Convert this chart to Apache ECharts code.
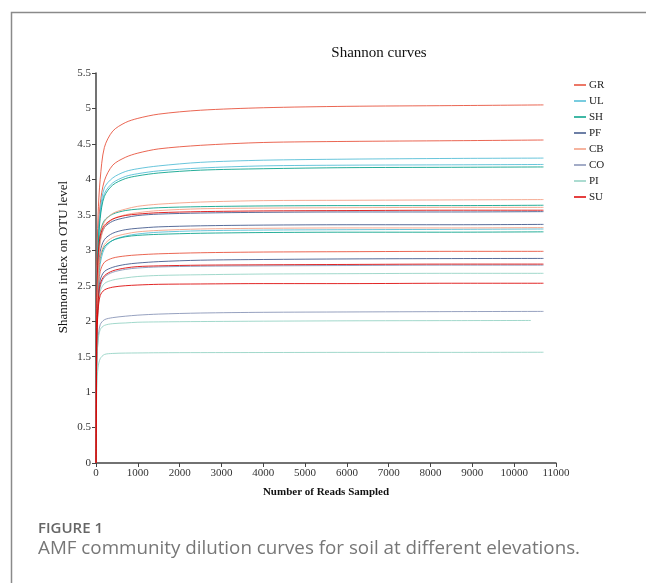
<!DOCTYPE html>
<html>
<head>
<meta charset="utf-8">
<script src="https://cdn.jsdelivr.net/npm/echarts@6/dist/echarts.min.js"></script>
<style>
html,body{margin:0;padding:0;background:#fff;}
#c{width:646px;height:583px;}
</style>
</head>
<body>
<div id="c"></div>
<script>
// Reads sampled (x values)
const readsX     = [1, 20, 50, 100, 200, 400, 700, 1000, 1500, 2500, 4000, 6000, 8500, 10700];
const readsX_PI2 = [1, 20, 50, 100, 200, 400, 700, 1000, 1500, 2500, 4000, 6000, 8500, 10400];

// Group names and colours
const groups = ['GR', 'UL', 'SH', 'PF', 'CB', 'CO', 'PI', 'SU'];
const groupColors = ['#E64B35', '#4DBBD5', '#00A087', '#3C5488', '#F39B7F', '#8491B4', '#91D1C2', '#DC0000'];

// Shannon index per curve
const GR_1 = [0, 2.7, 3.5, 4.0, 4.45, 4.68, 4.8, 4.86, 4.92, 4.975, 5.01, 5.03, 5.04, 5.05];
const GR_2 = [0, 2.5, 3.2, 3.65, 3.98, 4.2, 4.31, 4.37, 4.43, 4.48, 4.52, 4.535, 4.545, 4.555];
const GR_3 = [0, 1.9, 2.4, 2.7, 2.83, 2.89, 2.92, 2.935, 2.95, 2.965, 2.975, 2.98, 2.985, 2.985];
const UL_1 = [0, 2.4, 3.1, 3.55, 3.88, 4.02, 4.11, 4.15, 4.19, 4.24, 4.27, 4.285, 4.295, 4.30];
const UL_2 = [0, 2.35, 3.05, 3.5, 3.8, 3.95, 4.04, 4.08, 4.12, 4.16, 4.19, 4.20, 4.205, 4.21];
const UL_3 = [0, 1.9, 2.45, 2.8, 3.02, 3.14, 3.2, 3.23, 3.255, 3.275, 3.285, 3.29, 3.295, 3.30];
const SH_1 = [0, 2.3, 3.0, 3.45, 3.76, 3.92, 4.01, 4.05, 4.09, 4.13, 4.15, 4.165, 4.17, 4.175];
const SH_2 = [0, 2.3, 2.9, 3.25, 3.42, 3.51, 3.56, 3.58, 3.60, 3.615, 3.625, 3.63, 3.63, 3.635];
const SH_3 = [0, 2.0, 2.55, 2.88, 3.05, 3.14, 3.19, 3.21, 3.225, 3.24, 3.25, 3.255, 3.255, 3.26];
const PF_1 = [0, 2.2, 2.8, 3.15, 3.32, 3.41, 3.46, 3.49, 3.51, 3.525, 3.535, 3.54, 3.54, 3.545];
const PF_2 = [0, 2.1, 2.65, 2.98, 3.15, 3.24, 3.29, 3.31, 3.33, 3.345, 3.355, 3.36, 3.36, 3.365];
const PF_3 = [0, 1.8, 2.3, 2.58, 2.7, 2.76, 2.8, 2.82, 2.84, 2.86, 2.87, 2.878, 2.883, 2.885];
const CB_1 = [0, 2.2, 2.8, 3.2, 3.4, 3.52, 3.58, 3.62, 3.65, 3.68, 3.70, 3.705, 3.71, 3.715];
const CB_2 = [0, 2.1, 2.7, 3.1, 3.32, 3.44, 3.5, 3.53, 3.56, 3.585, 3.595, 3.60, 3.605, 3.605];
const CB_3 = [0, 2.0, 2.55, 2.9, 3.08, 3.18, 3.23, 3.26, 3.28, 3.30, 3.31, 3.315, 3.315, 3.32];
const CO_1 = [0, 1.75, 2.2, 2.48, 2.62, 2.69, 2.73, 2.75, 2.765, 2.775, 2.78, 2.785, 2.79, 2.79];
const CO_2 = [0, 1.4, 1.75, 1.95, 2.02, 2.05, 2.07, 2.085, 2.1, 2.115, 2.125, 2.13, 2.135, 2.138];
const PI_1 = [0, 1.7, 2.15, 2.42, 2.53, 2.58, 2.61, 2.63, 2.645, 2.655, 2.665, 2.67, 2.675, 2.675];
const PI_2 = [0, 1.4, 1.72, 1.88, 1.94, 1.965, 1.975, 1.985, 1.99, 1.995, 2.0, 2.005, 2.008, 2.01];
const PI_3 = [0, 1.1, 1.35, 1.47, 1.53, 1.545, 1.55, 1.552, 1.555, 1.557, 1.558, 1.56, 1.56, 1.562];
const SU_1 = [0, 2.4, 2.9, 3.2, 3.35, 3.44, 3.49, 3.51, 3.53, 3.545, 3.555, 3.56, 3.565, 3.565];
const SU_2 = [0, 1.8, 2.25, 2.52, 2.64, 2.71, 2.75, 2.77, 2.78, 2.79, 2.795, 2.80, 2.805, 2.805];
const SU_3 = [0, 1.75, 2.15, 2.36, 2.44, 2.48, 2.5, 2.51, 2.52, 2.525, 2.53, 2.53, 2.535, 2.535];

const curves = [
  ['GR', GR_1, readsX], ['GR', GR_2, readsX], ['GR', GR_3, readsX],
  ['UL', UL_1, readsX], ['UL', UL_2, readsX], ['UL', UL_3, readsX],
  ['SH', SH_1, readsX], ['SH', SH_2, readsX], ['SH', SH_3, readsX],
  ['PF', PF_1, readsX], ['PF', PF_2, readsX], ['PF', PF_3, readsX],
  ['CB', CB_1, readsX], ['CB', CB_2, readsX], ['CB', CB_3, readsX],
  ['CO', CO_1, readsX], ['CO', CO_2, readsX],
  ['PI', PI_1, readsX], ['PI', PI_2, readsX_PI2], ['PI', PI_3, readsX],
  ['SU', SU_1, readsX], ['SU', SU_2, readsX], ['SU', SU_3, readsX]
];

const chart = echarts.init(document.getElementById('c'), null, {renderer: 'canvas'});
const serif = '"Liberation Serif", "Times New Roman", serif';

const series = curves.map(function (c) {
  const col = groupColors[groups.indexOf(c[0])];
  return {
    type: 'line',
    name: c[0],
    data: c[2].map(function (x, i) { return [x, c[1][i]]; }),
    showSymbol: false,
    symbol: 'none',
    smooth: 0.3,
    lineStyle: {color: col, width: 1, opacity: 0.85},
    itemStyle: {color: col},
    emphasis: {disabled: true},
    animation: false
  };
});

chart.setOption({
  animation: false,
  backgroundColor: '#fff',
  title: {
    text: 'Shannon curves',
    left: 374, top: 41, textAlign: 'center',
    textStyle: {fontFamily: serif, fontSize: 15, fontWeight: 'normal', color: '#111'}
  },
  legend: {
    data: groups,
    orient: 'vertical',
    left: 569, top: 73,
    icon: 'rect',
    itemWidth: 12, itemHeight: 1.5,
    itemGap: 2,
    textStyle: {fontFamily: serif, fontSize: 11, color: '#222', lineHeight: 14, padding: [0, 0, 0, -2]},
    selectedMode: false
  },
  grid: {left: 96, right: 90, top: 73, bottom: 120, containLabel: false},
  xAxis: {
    type: 'value', min: 0, max: 11000, interval: 1000,
    name: 'Number of Reads Sampled', nameLocation: 'middle', nameGap: 24,
    nameTextStyle: {fontFamily: serif, fontSize: 11, fontWeight: 'bold', color: '#111'},
    axisLine: {show: true, lineStyle: {color: '#444', width: 1.5}},
    axisTick: {show: true, length: 4, lineStyle: {color: '#444'}},
    axisLabel: {fontFamily: serif, fontSize: 11, color: '#333', margin: 5,
                formatter: function (v) { return String(v); }},
    splitLine: {show: false}
  },
  yAxis: {
    type: 'value', min: 0, max: 5.5, interval: 0.5,
    name: 'Shannon index on OTU level', nameLocation: 'middle', nameGap: 26, nameRotate: 90,
    nameMoveOverlap: false,
    nameTextStyle: {fontFamily: serif, fontSize: 13, color: '#111', padding: [0, 0, 0, 22]},
    axisLine: {show: true, lineStyle: {color: '#444', width: 1.5}},
    axisTick: {show: true, length: 4, lineStyle: {color: '#444'}},
    axisLabel: {fontFamily: serif, fontSize: 11, color: '#333', margin: 5},
    splitLine: {show: false}
  },
  graphic: [
    {type: 'rect', left: 9, top: 10, shape: {x: 0, y: 0, width: 700, height: 700},
     style: {fill: 'none', stroke: '#8a8a8a', lineWidth: 1.5}, silent: true, z: -1},
    {type: 'text', left: 38, top: 521,
     style: {text: 'FIGURE 1', font: '600 15px "Open Sans", sans-serif', fill: '#666'}},
    {type: 'text', left: 38, top: 539,
     style: {text: 'AMF community dilution curves for soil at different elevations.', font: '18.8px "Open Sans", sans-serif', fill: '#777'}}
  ],
  series: series
});
</script>
</body>
</html>
